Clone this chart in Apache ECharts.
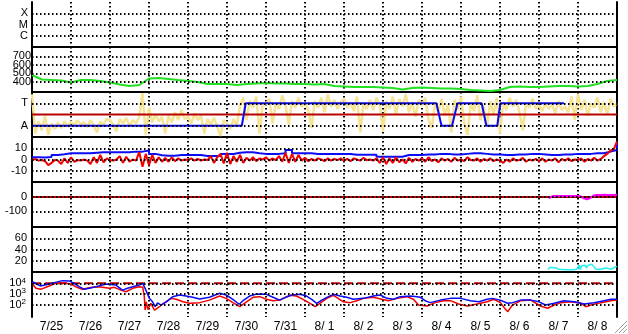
<!DOCTYPE html>
<html><head><meta charset="utf-8">
<script src="https://cdn.jsdelivr.net/npm/echarts@6/dist/echarts.min.js"></script>
<style>html,body{margin:0;padding:0;background:#fff}#c{width:628px;height:334px}</style>
</head><body><div id="c"></div>
<script>
// ---- categories / tick labels ----
const dayLabels = ['7/25','7/26','7/27','7/28','7/29','7/30','7/31','8/ 1','8/ 2','8/ 3','8/ 4','8/ 5','8/ 6','8/ 7','8/ 8'];
const xmcTicks = [1, 2, 3];
const xmcNames = {1: 'C', 2: 'M', 3: 'X'};
const p2Ticks = [400, 500, 600, 700];
const taTicks = [1, 3];
const taNames = {1: 'A', 3: 'T'};
const p4Ticks = [-10, 0, 10];
const p5Ticks = [-100, 0];
const p6Ticks = [20, 40, 60];
const p7Exps = [2, 3, 4];

// ---- panel 2: green (6-hour steps, in days) ----
const greenStep = 0.25;
const greenValues = [480,427,421,415,392,421,421,410,392,368,351,362,439,445,433,421,410,398,374,374,
  374,362,374,380,386,380,380,374,374,368,374,351,345,339,339,339,333,327,309,327,
  333,327,321,321,315,303,298,292,303,339,345,339,339,345,351,351,345,351,374,410,421];

// ---- panel 3: yellow noise (2-hour steps), state line, reference level ----
const yellowStep = 1/12;
const yellowValues = [
  3.8,0.3,1.4,0.6,1.9,0.2,1.2,0.7,1.3,0.8,1.4,0.9,
  1.4,1.0,1.5,1.1,1.3,0.9,1.5,1.0,0.4,1.4,1.1,1.6,
  1.5,1.1,0.5,1.6,1.2,1.7,1.0,1.5,1.2,1.8,3.9,0.2,
  2.6,1.3,2.0,1.4,1.8,0.3,1.9,1.3,2.2,1.5,2.4,1.6,
  1.8,1.2,2.1,1.5,1.9,0.3,1.6,1.1,1.7,0.9,0.1,1.5,
  1.2,0.7,1.6,1.0,2.8,3.5,1.5,3.2,2.6,3.6,0.3,3.0,
  2.9,3.4,1.2,3.0,2.5,3.7,2.8,1.1,3.2,2.6,3.5,2.7,
  3.0,2.4,0.8,3.2,2.6,3.5,2.2,3.8,2.7,3.3,2.5,3.1,
  3.4,2.6,3.1,2.3,3.6,0.4,3.0,2.5,3.3,2.4,3.5,2.8,
  0.5,3.2,2.5,3.6,2.0,3.4,2.7,3.8,2.2,3.1,1.8,3.3,
  2.8,3.5,1.6,0.8,3.0,2.2,3.4,1.9,2.9,0.4,3.3,2.4,
  3.6,1.2,0.2,3.0,2.3,3.7,1.5,2.8,0.9,3.2,2.0,3.5,
  0.3,3.1,2.4,3.5,2.7,3.3,2.2,0.6,3.0,2.6,3.4,2.5,
  2.8,2.3,3.0,2.5,2.9,2.1,3.2,2.4,2.7,2.2,3.6,1.5,
  3.8,2.4,3.3,1.9,3.0,2.6,3.5,2.2,3.1,2.0,3.4,2.7,3.0];
const stateTimes = [0,5.38,5.48,10.37,10.50,10.77,10.91,11.53,11.65,11.93,12.01,13.64];
const stateValues = [1,1,3,3,1,1,3,3,1,1,3,3];
const taRefLevel = 2;

// ---- panel 4: blue (4-hour steps) and red (2-hour steps) ----
const blue4Step = 1/6;
const blue4Values = [2,1.8,2.2,4,4.6,5.5,5.5,5.5,5.5,6,6.4,6.4,6.4,6.4,6.4,7,7,7.9,5,3.8,
  3.4,3.4,4,4,4,4,3.1,3.1,3.1,4.9,4.9,6,6.4,6.4,5.5,5,5,5,5.5,8.4,
  5.5,5.5,5.5,4.9,4.9,4.9,4.9,4.9,4.9,4.3,4.3,4.3,4.3,2.5,2.5,2.5,2.5,4,4,4,
  4.5,4.5,5,5,4.5,4.5,5,5.5,5.5,5,4.5,4.5,4,4,4.5,4.5,5,5,4.5,4,
  4,4.5,4.5,5,5,5,5.5,5.5,7,8.5,15];
const red4Step = 1/12;
const red4Values = [
  -0.5,0.5,-1,-0.5,-1.5,-5,-3,-0.5,-1,-4,1,-3,
  2,-2,-0.5,-1,0,-1,-4,2,-3,4,-2.5,1,
  -0.5,-1,0,3,-3,2.5,-2,0,-1,6.5,-6.5,5,
  -5,4,-3,2,-2,1.5,-2,2,-1.5,1,-1,0,
  -0.5,1,-1,0.5,-1,0,-0.5,3,-3,2,5,-3.5,
  6,-4,3,-2,4,-3,1.5,-1,2,-1.5,1,0,
  2,-1,1,-0.5,3,-2,6,-3,5,-2,4,-1,
  1.5,-1.5,0.5,-1,1,0,-1.5,1,-1,0.5,-0.5,1,
  -1,0.5,-1.5,1,0,-1,1.5,-0.5,0,-1,1,-3,
  2,-4,1,-3,2,-2.5,0,-3.5,1.5,-2,0.5,-1,
  1,-2,2,-1.5,0,-2.5,1,-1,0.5,-2,1.5,-1,
  0,-1.5,2,-0.5,-1,1,-2,0.5,-1,1,-1.5,0,
  -1,-3,0,-2,1,-1,-0.5,1.5,-2,0,-1,0.5,
  -1.5,1,-2,0,-1,1,-2.5,0.5,-1,1,-1.5,0,
  -0.5,1,-2,0.5,-1,1.5,-1,0.5,3,5,8,9,16];

// ---- panel 5 ----
const zeroLevel5 = 0;
const magentaTimes = [13.25,13.28,13.31,13.37,13.6,13.8,14.05,14.08,14.15,14.23,14.30,14.35,14.38,14.46,14.59,14.62,14.66,14.70,14.77,14.9,15.0];
const magentaValues = [-9,-9,0,7,7,7,7,0,-9,-16,-9,0,5,14,14,18,16,14,14,14,16];

// ---- panel 6 ----
const cyanTimes = [13.24,13.27,13.34,13.39,13.43,13.47,13.51,13.56,13.73,13.77,13.86,13.90,13.97,14.03,14.06,14.09,14.14,14.18,14.22,14.24,14.29,14.35,14.40,14.46,14.59,14.72,14.76,14.85,14.93,15.0];
const cyanValues = [4,8,8,10,7,8,5,4,4,5,4,6,5,12,4,11,8,12,7,11,8,14,10,5,5,7,4,5,8,10];

// ---- panel 7 (log scale) ----
const blue7Times = [0.01,0.22,0.44,0.78,0.95,1.08,1.21,1.34,1.47,1.64,1.90,2.15,2.32,2.45,2.58,2.75,2.84,2.92,3.01,3.09,
  3.16,3.22,3.31,3.44,3.61,3.78,3.95,4.12,4.30,4.55,4.81,4.98,5.15,5.31,5.41,5.58,5.76,6.01,6.18,6.35,
  6.44,6.66,6.87,7.04,7.17,7.30,7.43,7.60,7.73,7.90,8.07,8.24,8.50,8.75,8.93,9.10,9.27,9.44,9.70,9.87,
  9.96,10.08,10.21,10.47,10.73,10.99,11.24,11.46,11.67,11.80,12.01,12.19,12.32,12.53,12.79,13.00,13.17,13.39,13.64,13.90,
  14.16,14.41,14.67,14.84,15.0];
const blue7Values = [14000,5600,8500,18000,17000,10000,4800,2700,3400,4800,8500,6900,2300,3400,4800,6900,10000,2300,380,180,
  62,140,89,180,550,790,630,480,330,480,1150,790,310,105,230,630,980,910,480,260,
  380,790,910,630,310,130,260,550,910,630,480,310,380,630,790,380,310,550,630,550,
  480,230,150,260,380,380,230,180,310,380,260,130,150,260,260,180,89,130,230,180,
  112,150,230,310,310];
const red7Times = [0.01,0.10,0.22,0.44,0.61,0.78,1.00,1.12,1.29,1.47,1.64,1.81,1.98,2.11,2.28,2.41,2.58,2.75,2.84,2.88,
  2.90,2.93,2.97,3.05,3.14,3.18,3.27,3.35,3.44,3.57,3.70,3.87,4.04,4.30,4.55,4.81,4.98,5.15,5.33,5.50,
  5.67,5.84,6.01,6.18,6.35,6.61,6.78,6.95,7.13,7.26,7.38,7.56,7.73,7.85,7.98,8.16,8.33,8.50,8.75,8.97,
  9.14,9.36,9.61,9.78,9.91,9.96,10.13,10.34,10.56,10.73,10.94,11.16,11.41,11.67,11.84,12.01,12.14,12.20,12.32,12.53,
  12.79,13.04,13.22,13.39,13.56,13.82,14.07,14.20,14.33,14.59,14.84,15.0];
const red7Values = [8500,3400,2700,5600,10000,11500,8500,4800,2700,3800,4800,4200,3400,4200,2300,1600,3400,4800,4200,550,
  30,180,35,130,30,21,62,112,180,380,310,180,130,150,260,630,380,150,62,180,
  480,550,310,230,260,740,630,310,130,62,130,380,740,380,180,150,230,380,480,310,
  230,380,550,310,89,62,72,150,230,230,112,72,112,180,310,150,35,21,89,230,
  260,72,44,89,150,180,130,62,89,150,230,260];
const limit7 = 10000;

// ---- build ----
const FONT = '"Liberation Sans Narrow","Arial Narrow","Liberation Sans",Arial,sans-serif';
const DOT = {color:'#000', width:2, type:[1.5,2.5]};
const BLUE = '#0a0af5', RED = '#f20000', DARKRED = '#b80000';
const tops = [2,47,92,137,182,227,272];
const H = 45;
const ranges = [[0,4],[280,810],[0,4],[-20,20],[-208,104],[0,80],[0.82,5.07]];

function seq(step, vals, f){ return vals.map((v,i)=>[+(i*step).toFixed(5), f ? f(v) : v]); }
function pairs(ts, vs, f){ return ts.map((t,i)=>[t, f ? f(vs[i]) : vs[i]]); }
const lg = v => Math.log10(v);
const alt = (arr, p) => arr.filter((v,i) => i % 2 === p);

const grid = tops.map(t => ({left:32, right:11, top:t, height:H, containLabel:false}));
const xAxis = [];
tops.forEach((t,k) => {
  xAxis.push({type:'category', gridIndex:k, data:dayLabels, boundaryGap:true, position:'bottom',
    axisLine:{show:k<6, onZero:false, lineStyle:{color:'#000', width:2}},
    axisTick:{show:false, interval:0},
    axisLabel:{show:k===6, interval:0, hideOverlap:false, color:'#000', fontFamily:FONT, fontSize:12, margin:4},
    splitLine:{show:true, interval:0, lineStyle:DOT}});
  xAxis.push({type:'value', gridIndex:k, min:0, max:15, show:false});
});
const tickSets = [xmcTicks, p2Ticks, taTicks, p4Ticks, p5Ticks, p6Ticks, p7Exps];
// densely packed label sets are split over two stacked left axes so none is dropped
const labelSets = [[xmcTicks],[alt(p2Ticks,0),alt(p2Ticks,1)],[taTicks],[p4Ticks],[p5Ticks],[p6Ticks],[alt(p7Exps,0),alt(p7Exps,1)]];
const fmts = [v=>xmcNames[v]||'', v=>String(v), v=>taNames[v]||'', v=>String(v), v=>String(v), v=>String(v), v=>'10{e|'+Math.round(v)+'}'];
const sizes = [11,11,11,11,11,11,11];
const margins = [4,1,4,5,5,5,6];
const yAxis = [];
const primaryY = [];
tops.forEach((t,k) => {
  labelSets[k].forEach((set, j) => {
    const lbl = {customValues:set, formatter:fmts[k], hideOverlap:false, showMinLabel:true, showMaxLabel:true,
      color:'#000', fontFamily:FONT, fontSize:sizes[k], margin:margins[k]};
    if (k===6) lbl.rich = {e:{fontSize:8, fontFamily:FONT, color:'#000', verticalAlign:'bottom', padding:[0,0,6,0]}};
    if (j===0) primaryY[k] = yAxis.length;
    yAxis.push({type:'value', gridIndex:k, position:'left', offset:0, min:ranges[k][0], max:ranges[k][1],
      axisLine:{show:j===0, onZero:false, lineStyle:{color:'#000', width:2}},
      axisTick:{show:false, customValues:set},
      axisLabel:lbl,
      splitLine:{show:false}});
  });
  yAxis.push({type:'value', gridIndex:k, position:'right', min:ranges[k][0], max:ranges[k][1],
    axisLine:{show:true, onZero:false, lineStyle:{color:'#000', width:2}},
    axisTick:{show:false}, axisLabel:{show:false}, splitLine:{show:false}});
});
function line(k, data, color, width, extra){
  return Object.assign({type:'line', xAxisIndex:2*k+1, yAxisIndex:primaryY[k], data, showSymbol:false, symbol:'none',
    lineStyle:{color, width}, itemStyle:{color}, silent:true, animation:false, z:3}, extra||{});
}
// horizontal dotted grid lines at the tick values of each panel
const gridLines = tickSets.map((ticks,k) => ({type:'line', xAxisIndex:2*k+1, yAxisIndex:primaryY[k], data:[], z:1, silent:true, animation:false,
  markLine:{silent:true, symbol:'none', animation:false, label:{show:false}, lineStyle:DOT,
    data: ticks.map(v => ({yAxis:v}))}}));
const series = gridLines.concat([
  line(1, seq(greenStep, greenValues), '#22e022', 2),
  line(2, seq(yellowStep, yellowValues), '#f6e394', 2.5),
  line(2, [[0,taRefLevel],[15,taRefLevel]], DARKRED, 2),
  line(2, pairs(stateTimes, stateValues), BLUE, 2),
  line(3, seq(blue4Step, blue4Values), BLUE, 2, {step:'end'}),
  line(3, seq(red4Step, red4Values), RED, 2),
  line(4, [[0,zeroLevel5],[15,zeroLevel5]], DARKRED, 2),
  line(4, pairs(magentaTimes, magentaValues), '#ff00ff', 2),
  line(5, pairs(cyanTimes, cyanValues), '#22eef2', 1.5),
  line(6, [[0,lg(limit7)],[15,lg(limit7)]], DARKRED, 2, {lineStyle:{color:DARKRED, width:2, type:[9,4]}}),
  line(6, pairs(red7Times, red7Values, lg), RED, 1.5),
  line(6, pairs(blue7Times, blue7Values, lg), BLUE, 1.5)
]);
// window resize grip in the bottom-right corner
const grip = {type:'group', silent:true, children:[
  {type:'line', shape:{x1:627,y1:321,x2:615,y2:333}, style:{stroke:'#a0a0a0', lineWidth:1}},
  {type:'line', shape:{x1:627,y1:325,x2:619,y2:333}, style:{stroke:'#a0a0a0', lineWidth:1}},
  {type:'line', shape:{x1:627,y1:329,x2:623,y2:333}, style:{stroke:'#a0a0a0', lineWidth:1}}]};
const chart = echarts.init(document.getElementById('c'), null, {renderer:'canvas'});
chart.setOption({animation:false, backgroundColor:'#fff', grid, xAxis, yAxis, series, graphic:[grip]});
</script></body></html>
